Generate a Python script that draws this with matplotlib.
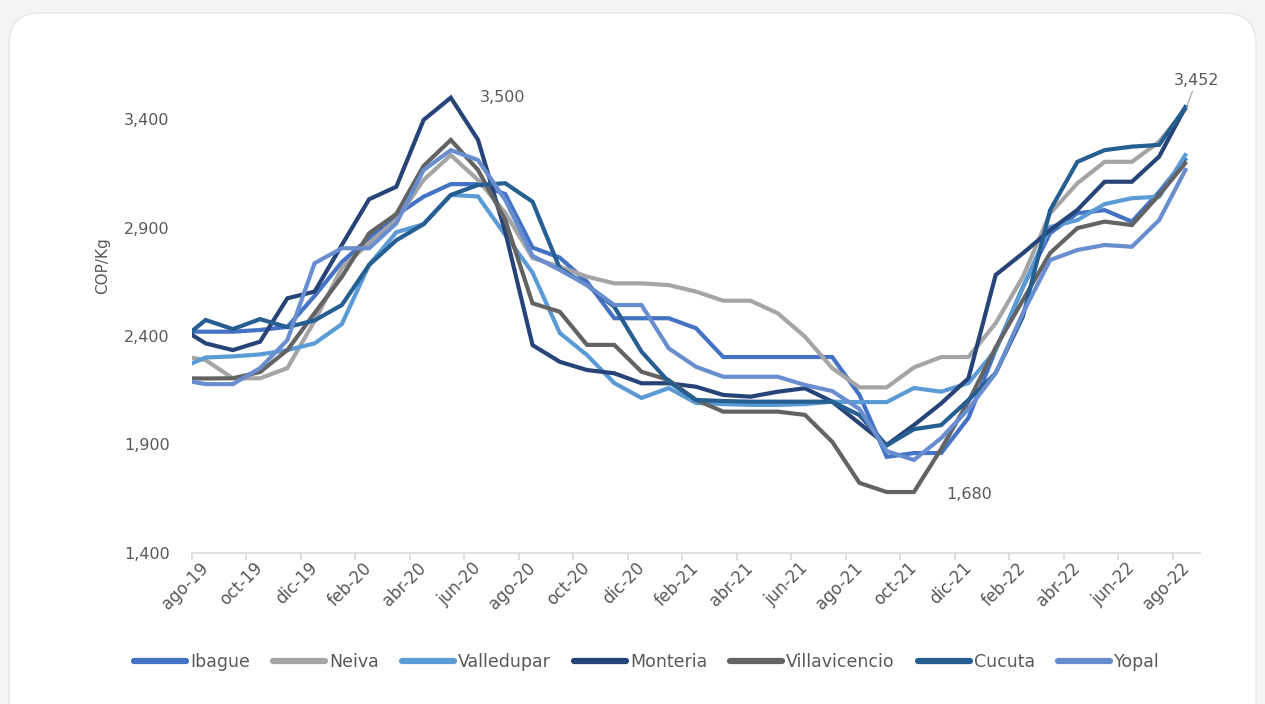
import matplotlib
matplotlib.use("Agg")
import matplotlib.pyplot as plt
from matplotlib.patches import FancyBboxPatch

# ---------------- data ----------------
months = ["jul-19",
          "ago-19", "sep-19", "oct-19", "nov-19", "dic-19",
          "ene-20", "feb-20", "mar-20", "abr-20", "may-20", "jun-20", "jul-20",
          "ago-20", "sep-20", "oct-20", "nov-20", "dic-20",
          "ene-21", "feb-21", "mar-21", "abr-21", "may-21", "jun-21", "jul-21",
          "ago-21", "sep-21", "oct-21", "nov-21", "dic-21",
          "ene-22", "feb-22", "mar-22", "abr-22", "may-22", "jun-22", "jul-22",
          "ago-22"]

ibague = [2420,
          2420, 2420, 2428, 2442, 2585, 2741, 2852, 2958, 3043, 3101, 3101, 3055,
          2808, 2762, 2650, 2482, 2482, 2482, 2436, 2303, 2303, 2303, 2303, 2303,
          2128, 1842, 1860, 1860, 2022, 2336, 2626, 2875, 2967, 2981, 2928, 3065,
          3222]
neiva = [2310,
         2289, 2205, 2205, 2252, 2470, 2714, 2829, 2935, 3120, 3235, 3120, 2968,
         2760, 2720, 2674, 2643, 2643, 2635, 2605, 2563, 2563, 2505, 2397, 2252,
         2163, 2163, 2255, 2303, 2303, 2459, 2674, 2966, 3105, 3204, 3204, 3297,
         3452]
valledupar = [2247,
              2301, 2306, 2315, 2335, 2366, 2455, 2728, 2879, 2916, 3051, 3044, 2866,
              2693, 2414, 2312, 2183, 2114, 2160, 2091, 2086, 2082, 2082, 2086, 2097,
              2095, 2095, 2160, 2143, 2183, 2335, 2626, 2903, 2935, 3009, 3036, 3043,
              3243]
monteria = [2444,
            2366, 2335, 2374, 2574, 2605, 2820, 3031, 3089, 3397, 3500, 3305, 2880,
            2358, 2281, 2243, 2228, 2182, 2182, 2166, 2128, 2120, 2143, 2159, 2097,
            1997, 1897, 1989, 2089, 2205, 2682, 2782, 2889, 2982, 3112, 3112, 3228,
            3465]
villavicencio = [2205,
                 2204, 2205, 2234, 2335, 2506, 2673, 2874, 2963, 3185, 3305, 3166, 2935,
                 2551, 2512, 2359, 2359, 2235, 2197, 2105, 2051, 2051, 2051, 2036, 1912,
                 1722, 1680, 1680, 1879, 2098, 2347, 2566, 2783, 2898, 2928, 2912, 3051,
                 3204]
cucuta = [2372,
          2474, 2432, 2478, 2441, 2472, 2543, 2728, 2842, 2916, 3051, 3097, 3105,
          3020, 2712, 2635, 2535, 2328, 2189, 2105, 2100, 2097, 2097, 2097, 2097,
          2035, 1895, 1970, 1989, 2105, 2229, 2490, 2981, 3204, 3258, 3274, 3282,
          3462]
yopal = [2200,
         2178, 2178, 2252, 2381, 2736, 2805, 2805, 2920, 3166, 3258, 3212, 3028,
         2770, 2705, 2635, 2543, 2543, 2343, 2258, 2212, 2212, 2212, 2174, 2146,
         2063, 1869, 1828, 1929, 2063, 2229, 2506, 2751, 2797, 2820, 2812, 2935,
         3175]

series_names = ["Ibague", "Neiva", "Valledupar", "Monteria",
                "Villavicencio", "Cucuta", "Yopal"]
series_values = [ibague, neiva, valledupar, monteria, villavicencio, cucuta, yopal]
colors = ["#4472C4", "#A5A5A5", "#5B9BD5", "#264478",
          "#636363", "#255E91", "#698ED0"]

y_ticks = [1400, 1900, 2400, 2900, 3400]

# ---------------- figure ----------------
W, H = 1265, 704
fig = plt.figure(figsize=(W / 100, H / 100), dpi=100)
fig.patch.set_facecolor("#F4F4F4")
card = FancyBboxPatch((9 / W, -0.05), (W - 18) / W, 1.05 - 13 / H,
                      boxstyle="round,pad=0,rounding_size=0.025",
                      transform=fig.transFigure, facecolor="white",
                      edgecolor="#E6E6E6", linewidth=1.0, zorder=-10,
                      mutation_aspect=W / H)
fig.patches.append(card)

plt.rcParams["font.family"] = ["DejaVu Sans"]
txt_color = "#595959"

left_px, right_px, bottom_px, top_px = 192, 1200, 552.7, 76
ax = fig.add_axes([left_px / W, 1 - bottom_px / H,
                   (right_px - left_px) / W, (bottom_px - top_px) / H])
ax.set_facecolor("none")
ax.set_zorder(5)

x = list(range(-1, len(months) - 1))  # jul-19 sits at -1, ago-19 at 0
lines = []
for name, vals, col in zip(series_names, series_values, colors):
    ln, = ax.plot(x, vals, color=col, lw=3.0, solid_joinstyle="miter",
                  solid_capstyle="butt", label=name)
    lines.append(ln)

ax.set_xlim(-0.5, len(months) - 1.5)
ax.set_ylim(1400, 3600)

for s in ["left", "right", "top"]:
    ax.spines[s].set_visible(False)
ax.spines["bottom"].set_color("#D9D9D9")
ax.spines["bottom"].set_linewidth(1.2)

ax.set_yticks(y_ticks)
ax.set_yticklabels([f"{v:,}" for v in y_ticks])
ax.tick_params(axis="y", length=0, pad=16, labelsize=11.5, labelcolor=txt_color)

# major ticks at category boundaries, labels at every second category
n_cat = len(months) - 1
ax.set_xticks([k - 0.5 for k in range(0, n_cat, 2)])
ax.set_xticklabels([])
ax.tick_params(axis="x", which="major", length=5, color="#D9D9D9", width=1.2,
               direction="out")
lab_pos = list(range(0, n_cat, 2))
ax.set_xticks(lab_pos, minor=True)
ax.set_xticklabels([months[p + 1] for p in lab_pos], minor=True,
                   rotation=45, ha="right", va="center", rotation_mode="anchor")
ax.tick_params(axis="x", which="minor", length=0, pad=9, labelsize=12,
               labelcolor=txt_color)

fig.text(103 / W, 1 - 266 / H, "COP/Kg", rotation=90, ha="center", va="center",
         fontsize=11, color=txt_color)

# data labels
ax.annotate(f"{monteria[10]:,}", xy=(9, monteria[10]), xytext=(29, 0),
            textcoords="offset pixels", ha="left", va="center",
            fontsize=11.5, color=txt_color)
ax.annotate(f"{neiva[-1]:,}", xy=(36, neiva[-1]), xytext=(10, 28),
            textcoords="offset pixels", ha="center", va="center",
            fontsize=11.5, color=txt_color,
            arrowprops=dict(arrowstyle="-", color="#A5A5A5", lw=0.9,
                            shrinkA=0.5, shrinkB=0.5))
ax.annotate(f"{villavicencio[26]:,}", xy=(26, villavicencio[26]), xytext=(32, -2),
            textcoords="offset pixels", ha="left", va="center",
            fontsize=11.5, color=txt_color)

leg = fig.legend(handles=lines, labels=series_names, loc="center",
                 bbox_to_anchor=(647 / W, 1 - 662 / H), ncol=7, frameon=False,
                 handlelength=3.0, handletextpad=0.25, columnspacing=1.3,
                 fontsize=12.5, labelcolor=txt_color)
for h in leg.legend_handles:
    h.set_linewidth(4.5)
    h.set_solid_capstyle("round")

fig.savefig("out.png", dpi=100, facecolor=fig.get_facecolor())
